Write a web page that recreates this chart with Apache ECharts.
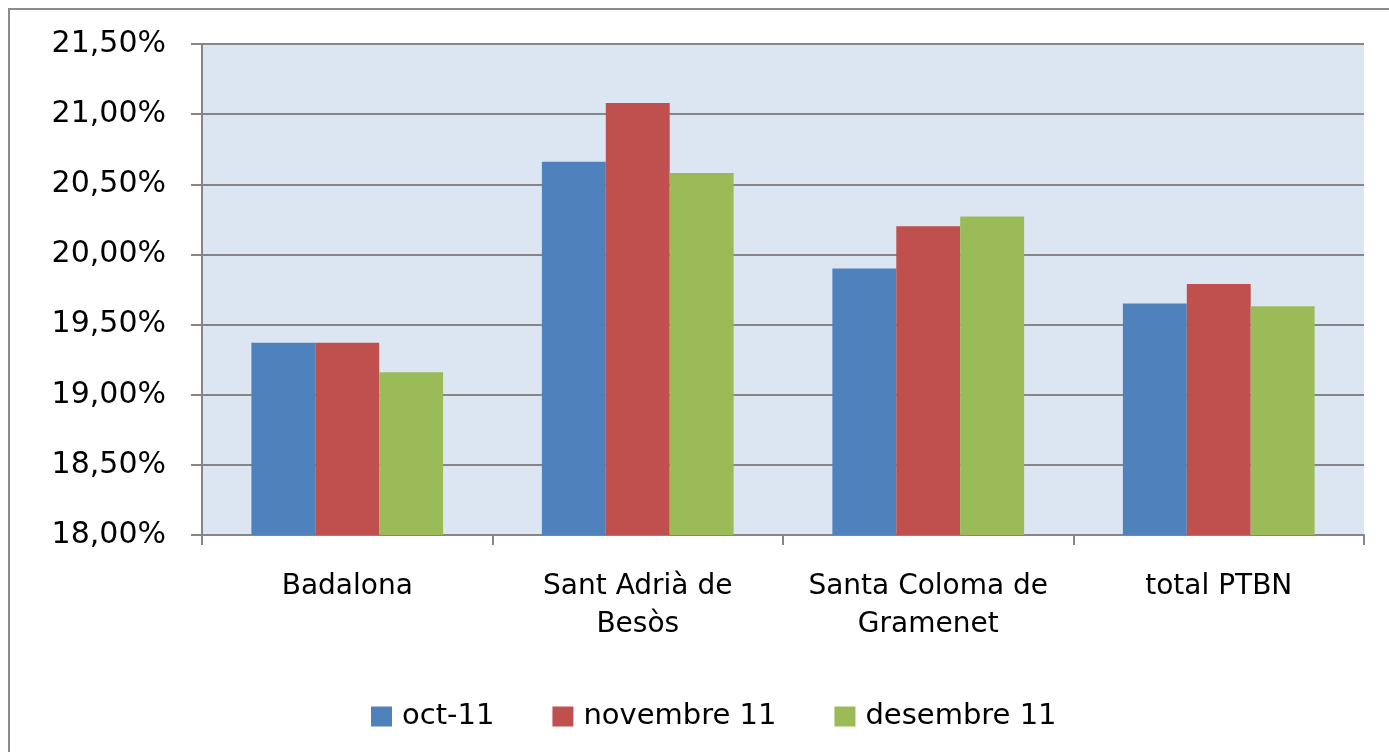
<!DOCTYPE html>
<html><head><meta charset="utf-8">
<script src="https://cdn.jsdelivr.net/npm/echarts@6/dist/echarts.min.js"></script>
<style>html,body{margin:0;padding:0;background:#fff}#c{width:1389px;height:752px}</style>
</head><body><div id="c"></div>
<script>
const categories = ['Badalona', 'Sant Adrià de\nBesòs', 'Santa Coloma de\nGramenet', 'total PTBN'];
const seriesNames = ['oct-11', 'novembre 11', 'desembre 11'];
const oct11 = [19.37, 20.66, 19.90, 19.65];
const nov11 = [19.37, 21.08, 20.20, 19.79];
const des11 = [19.16, 20.58, 20.27, 19.63];
const yMin = 18, yMax = 21.5, yStep = 0.5;
const colors = ['#4F81BD', '#C0504D', '#9BBB59'];

const font = 'DejaVu Sans';
const chart = echarts.init(document.getElementById('c'), null, {renderer: 'canvas'});
chart.setOption({
  animation: false,
  color: colors,
  graphic: [{
    type: 'rect', shape: {x: 9, y: 9, width: 1420, height: 780},
    style: {fill: 'none', stroke: '#8c8c8c', lineWidth: 2}, z: -10
  }],
  grid: {left: 202, top: 44, right: 25, bottom: 217, show: true, backgroundColor: '#DCE6F2', borderWidth: 0},
  legend: {
    left: 366, top: 697, itemWidth: 21, itemHeight: 20, itemGap: 58, icon: 'rect',
    textStyle: {fontFamily: font, fontSize: 29, color: '#000', padding: [0, 0, 0, 5]},
    data: seriesNames
  },
  xAxis: {
    type: 'category', data: categories,
    axisLine: {lineStyle: {color: '#868686', width: 2}},
    axisTick: {show: true, length: 10, alignWithLabel: false, lineStyle: {color: '#868686', width: 2}},
    axisLabel: {fontFamily: font, fontSize: 28, color: '#000', margin: 33, lineHeight: 38, interval: 0}
  },
  yAxis: {
    type: 'value', min: yMin, max: yMax, interval: yStep,
    axisLine: {show: true, lineStyle: {color: '#868686', width: 2}},
    axisTick: {show: true, inside: false, length: 11, lineStyle: {color: '#868686', width: 2}},
    splitLine: {show: true, lineStyle: {color: '#868686', width: 2}},
    axisLabel: {fontFamily: font, fontSize: 30, color: '#000', margin: 36,
      formatter: v => v.toFixed(2).replace('.', ',') + '%'}
  },
  series: [
    {name: seriesNames[0], type: 'bar', data: oct11, barGap: '0%', barCategoryGap: '34%'},
    {name: seriesNames[1], type: 'bar', data: nov11, barGap: '0%', barCategoryGap: '34%'},
    {name: seriesNames[2], type: 'bar', data: des11, barGap: '0%', barCategoryGap: '34%'}
  ]
});
</script></body></html>
